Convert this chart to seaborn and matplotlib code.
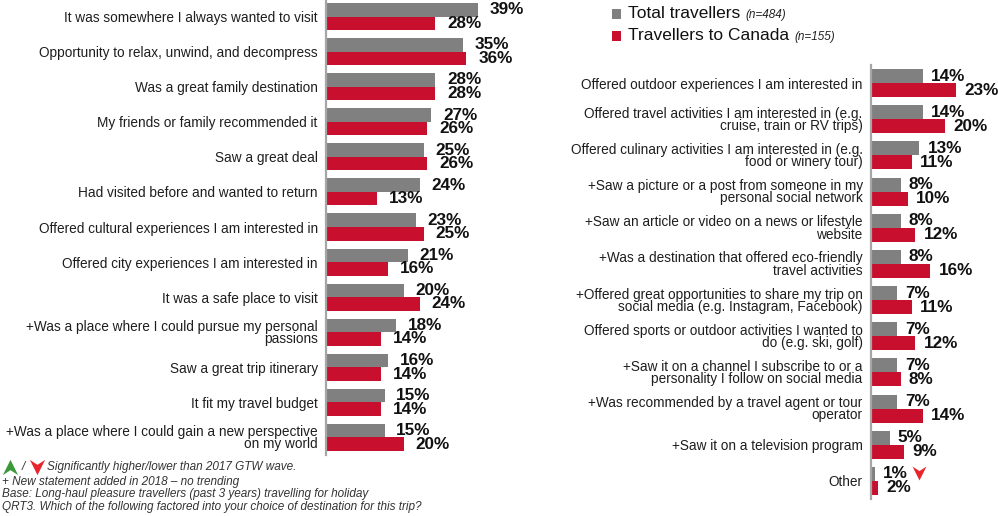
import numpy as np
import pandas as pd
import seaborn as sns
import matplotlib.pyplot as plt
from matplotlib.path import Path
from matplotlib.patches import Rectangle
from matplotlib.lines import Line2D
from matplotlib.transforms import ScaledTranslation

sns.set_theme(style="white")
plt.rcParams["font.family"] = ["Liberation Sans", "DejaVu Sans"]

# ---- data -------------------------------------------------------------
series = ["Total travellers", "Travellers to Canada"]
series_n = ["(n=484)", "(n=155)"]
colors = ["#808080", "#C8102E"]

left_categories = [
    "It was somewhere I always wanted to visit",
    "Opportunity to relax, unwind, and decompress",
    "Was a great family destination",
    "My friends or family recommended it",
    "Saw a great deal",
    "Had visited before and wanted to return",
    "Offered cultural experiences I am interested in",
    "Offered city experiences I am interested in",
    "It was a safe place to visit",
    "+Was a place where I could pursue my personal\npassions",
    "Saw a great trip itinerary",
    "It fit my travel budget",
    "+Was a place where I could gain a new perspective\non my world",
]
left_total = [39, 35, 28, 27, 25, 24, 23, 21, 20, 18, 16, 15, 15]
left_canada = [28, 36, 28, 26, 26, 13, 25, 16, 24, 14, 14, 14, 20]

right_categories = [
    "Offered outdoor experiences I am interested in",
    "Offered travel activities I am interested in (e.g.\ncruise, train or RV trips)",
    "Offered culinary activities I am interested in (e.g.\nfood or winery tour)",
    "+Saw a picture or a post from someone in my\npersonal social network",
    "+Saw an article or video on a news or lifestyle\nwebsite",
    "+Was a destination that offered eco-friendly\ntravel activities",
    "+Offered great opportunities to share my trip on\nsocial media (e.g. Instagram, Facebook)",
    "Offered sports or outdoor activities I wanted to\ndo (e.g. ski, golf)",
    "+Saw it on a channel I subscribe to or a\npersonality I follow on social media",
    "+Was recommended by a travel agent or tour\noperator",
    "+Saw it on a television program",
    "Other",
]
right_total = [14, 14, 13, 8, 8, 8, 7, 7, 7, 7, 5, 1]
right_canada = [23, 20, 11, 10, 12, 16, 11, 12, 8, 14, 9, 2]

# categories where total travellers were significantly lower than 2017
right_total_lower = ["Other"]

footnotes = [
    "+ New statement added in 2018 \u2013 no trending",
    "Base: Long-haul pleasure travellers (past 3 years) travelling for holiday",
    "QRT3. Which of the following factored into your choice of destination for this trip?",
]
sig_note = "Significantly higher/lower than 2017 GTW wave."

# ---- figure -----------------------------------------------------------
W, H = 998, 516
fig = plt.figure(figsize=(W / 100, H / 100), dpi=100)


def px_rect(x0, y0, x1, y1):
    return [x0 / W, 1 - y1 / H, (x1 - x0) / W, (y1 - y0) / H]


axL = fig.add_axes(px_rect(326, -1, 326 + 45 * 3.9, 455))
axR = fig.add_axes(px_rect(871, 65, 871 + 34 * 3.7, 499))

down_arrow = Path([(-1, 1), (0, -1), (1, 1), (0, 0.35), (-1, 1)],
                  [Path.MOVETO, Path.LINETO, Path.LINETO, Path.LINETO, Path.CLOSEPOLY])
up_arrow = Path([(-1, -1), (0, 1), (1, -1), (0, -0.35), (-1, -1)],
                [Path.MOVETO, Path.LINETO, Path.LINETO, Path.LINETO, Path.CLOSEPOLY])


def draw_panel(ax, cats, total, canada, xmax, pad):
    df = pd.DataFrame({
        "category": cats * 2,
        "pct": total + canada,
        "series": [series[0]] * len(cats) + [series[1]] * len(cats),
    })
    sns.barplot(data=df, y="category", x="pct", hue="series", order=cats,
                hue_order=series, palette=colors, orient="h", width=0.77,
                dodge=True, saturation=1, linewidth=0, legend=False,
                errorbar=None, ax=ax)
    ax.set_xlim(0, xmax)
    ax.set_ylim(len(cats) - 0.5, -0.5)
    ax.set_xlabel("")
    ax.set_ylabel("")
    ax.set_xticks([])
    for s in ["top", "right", "bottom"]:
        ax.spines[s].set_visible(False)
    ax.spines["left"].set_color("#a6a6a6")
    ax.spines["left"].set_linewidth(1.6)
    ax.tick_params(axis="y", length=0, pad=6, labelsize=9.8, labelcolor="#1e1e1e")
    for t in ax.get_yticklabels():
        t.set_linespacing(0.85)
    for container in ax.containers:
        labels = ax.bar_label(container, fmt="{:.0f}%", padding=pad,
                              fontsize=12.3, fontweight="bold", color="#111111")
        for lab in labels:
            lab.set_transform(lab.get_transform() + ScaledTranslation(0, -1.5 / 100, fig.dpi_scale_trans))
    ax.patch.set_alpha(0)


draw_panel(axL, left_categories, left_total, left_canada, 45, 8.5)
draw_panel(axR, right_categories, right_total, right_canada, 34, 6)

# significance flag next to "Other" total travellers
for cat in right_total_lower:
    i = right_categories.index(cat)
    bar = axR.containers[0][i]
    yc = bar.get_y() + bar.get_height() / 2
    xe = bar.get_width()
    axR.plot([xe], [yc], marker=down_arrow, markersize=10, color="#E8242C",
             markeredgewidth=0, clip_on=False,
             transform=axR.transData + ScaledTranslation(44 / 100, 1 / 100, fig.dpi_scale_trans))

# ---- legend -----------------------------------------------------------
fig.canvas.draw()
renderer = fig.canvas.get_renderer()
for k, (name, n, col) in enumerate(zip(series, series_n, colors)):
    yc = 14 + 22 * k
    fig.patches.append(Rectangle((612 / W, 1 - (yc + 4.5) / H), 9 / W, 9 / H,
                                 transform=fig.transFigure, facecolor=col,
                                 edgecolor="none"))
    t = fig.text(628 / W, 1 - yc / H, name, fontsize=12.5, color="#111111",
                 va="center", ha="left")
    bb = t.get_window_extent(renderer)
    fig.text((bb.x1 + 5) / W, 1 - (yc + 1) / H, n, fontsize=8.5, style="italic",
             color="#222222", va="center", ha="left")

# ---- footnotes --------------------------------------------------------
fig.lines.append(Line2D([10 / W], [1 - 467 / H], marker=up_arrow, markersize=11,
                        color="#3A9A3A", markeredgewidth=0, transform=fig.transFigure))
fig.text(22 / W, 1 - 467 / H, "/", fontsize=8.5, style="italic", color="#333333",
         va="center", ha="left")
fig.lines.append(Line2D([37 / W], [1 - 467 / H], marker=down_arrow, markersize=11,
                        color="#E8242C", markeredgewidth=0, transform=fig.transFigure))
fig.text(47 / W, 1 - 467 / H, sig_note, fontsize=8.5, style="italic", color="#333333",
         va="center", ha="left")
for k, line in enumerate(footnotes):
    fig.text(2 / W, 1 - (481.5 + 12.6 * k) / H, line, fontsize=8.5, style="italic",
             color="#333333", va="center", ha="left")

fig.savefig("out.png", dpi=100)
